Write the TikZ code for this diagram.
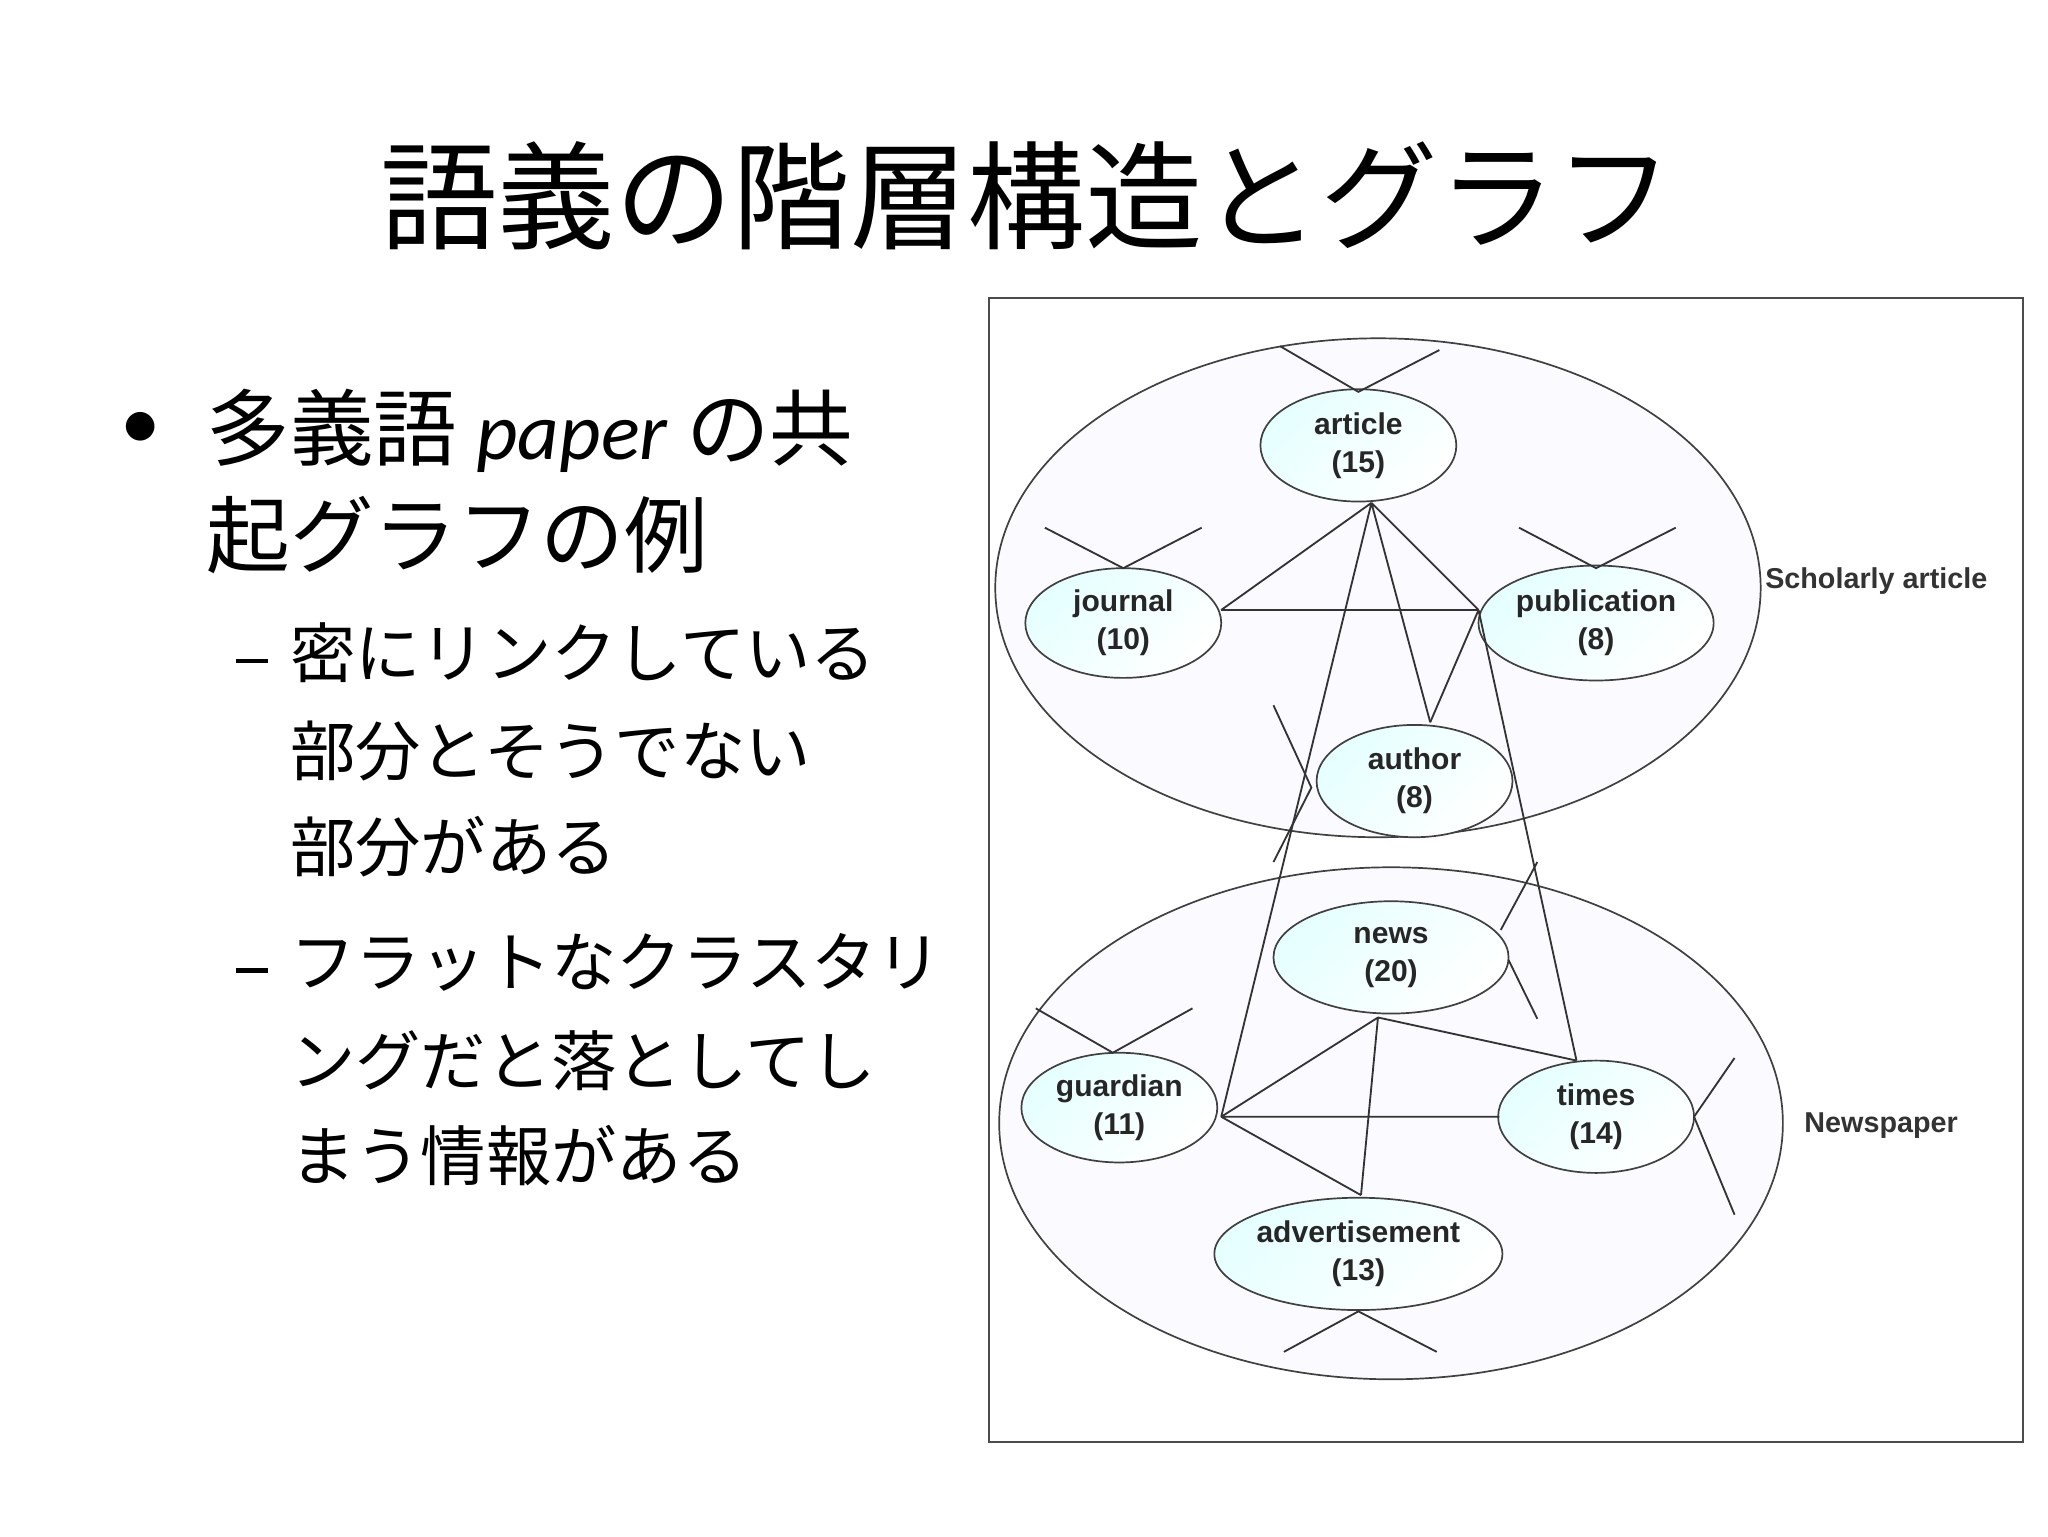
\documentclass[tikz,border=0pt]{standalone}
\usepackage{fontspec}
\setmainfont{Carlito}
\newfontfamily\jp{Noto Sans CJK JP}
\newfontfamily\lat{Carlito}
\newfontfamily\ar{Liberation Sans}
\usetikzlibrary{shapes.geometric}
\begin{document}
\begin{tikzpicture}[x=1pt,y=-1pt,
  wnode/.style={ellipse,draw=black!75,line width=1.3pt,inner sep=0pt,left color=cyan!10,right color=white,shading angle=45,font=\ar\bfseries\fontsize{23}{29}\selectfont,align=center,text=black!85},
  grp/.style={ellipse,draw=black!75,line width=1.3pt,fill=blue!2,inner sep=0pt},
  ln/.style={draw=black!80,line width=1.4pt},
  jl/.style={anchor=west,font=\jp\fontsize{#1}{#1}\selectfont,inner sep=0pt},
  dashmark/.style={fill=black,minimum width=25,minimum height=3.5,inner sep=0pt}]
\useasboundingbox (0,0) rectangle (1568,1176);
\fill[white] (0,0) rectangle (1568,1176);
\node[font=\jp\fontsize{90}{90}\selectfont,inner sep=0pt] (title) at (786,150) {語義の階層構造とグラフ};
\node[anchor=west,font=\lat\fontsize{62}{62}\selectfont,inner sep=0pt] (b1) at (92,330) {•};
\node[jl=64] (l1) at (158,330) {多義語 {\lat\fontsize{62}{62}\selectfont\itshape paper} の共};
\node[jl=64] (l2) at (158,410) {起グラフの例};
\node[dashmark] (d1) at (193,506) {};
\node[jl=50] (s1) at (222,500) {密にリンクしている};
\node[jl=50] (s2) at (222,575) {部分とそうでない};
\node[jl=50] (s3) at (222,648) {部分がある};
\node[dashmark] (d2) at (193,743) {};
\node[jl=50] (s4) at (222,737) {フラットなクラスタリ};
\node[jl=50] (s5) at (222,812) {ングだと落としてし};
\node[jl=50] (s6) at (222,885) {まう情報がある};
% frame
\draw[black!70,line width=1.5pt] (757,228) rectangle (1549,1104);
\node[grp,minimum width=586,minimum height=382] (g1) at (1055,450) {};
\node[grp,minimum width=600,minimum height=392] (g2) at (1065,860) {};
\node[anchor=west,font=\ar\bfseries\fontsize{22}{26}\selectfont,text=black!80] (lab1) at (1348,445) {Scholarly article};
\node[anchor=west,font=\ar\bfseries\fontsize{22}{26}\selectfont,text=black!80] (lab2) at (1378,862) {Newspaper};
% nodes
\node[wnode,minimum width=150,minimum height=86] (article) at (1040,341) {article\\(15)};
\node[wnode,minimum width=150,minimum height=84] (journal) at (860,477) {journal\\(10)};
\node[wnode,minimum width=180,minimum height=88] (pub) at (1222,477) {publication\\(8)};
\node[wnode,minimum width=150,minimum height=86] (author) at (1083,598) {author\\(8)};
\node[wnode,minimum width=180,minimum height=86] (news) at (1065,733) {news\\(20)};
\node[wnode,minimum width=150,minimum height=84] (guardian) at (857,848) {guardian\\(11)};
\node[wnode,minimum width=150,minimum height=86] (times) at (1222,855) {times\\(14)};
\node[wnode,minimum width=210,minimum height=86] (adv) at (1040,960) {advertisement\\(13)};
% named points
\coordinate (ap) at (1050,385);
\coordinate (jr) at (935,467);
\coordinate (pl) at (1132,467);
\coordinate (at) at (1095,553);
\coordinate (gr) at (935,855);
\coordinate (tt) at (1207,812);
\coordinate (tl) at (1148,855);
\coordinate (nb) at (1055,779);
\coordinate (adt) at (1042,915);
% edges
\draw[ln] (ap) -- (jr) (ap) -- (pl) (ap) -- (at) (ap) -- (gr);
\draw[ln] (jr) -- (pl) (pl) -- (at) (pl) -- (tt);
\draw[ln] (nb) -- (gr) (nb) -- (adt) (nb) -- (tt);
\draw[ln] (gr) -- (tl) (gr) -- (adt);
% stubs
\coordinate (sa) at (1040,300); \draw[ln] (980,265) -- (sa) -- (1102,268);
\coordinate (sj) at (860,435); \draw[ln] (800,404) -- (sj) -- (920,404);
\coordinate (sp) at (1222,435); \draw[ln] (1163,404) -- (sp) -- (1283,404);
\coordinate (sau) at (1004,603); \draw[ln] (975,540) -- (sau) -- (975,660);
\coordinate (sn) at (1149,712); \draw[ln] (1177,660) -- (sn); \draw[ln] (1155,735) -- (1177,780);
\coordinate (sg) at (852,806); \draw[ln] (793,772) -- (sg) -- (913,772);
\coordinate (st) at (1297,855); \draw[ln] (1328,810) -- (st) -- (1328,930);
\coordinate (sad) at (1040,1004); \draw[ln] (983,1035) -- (sad) -- (1100,1035);
\end{tikzpicture}
\end{document}
